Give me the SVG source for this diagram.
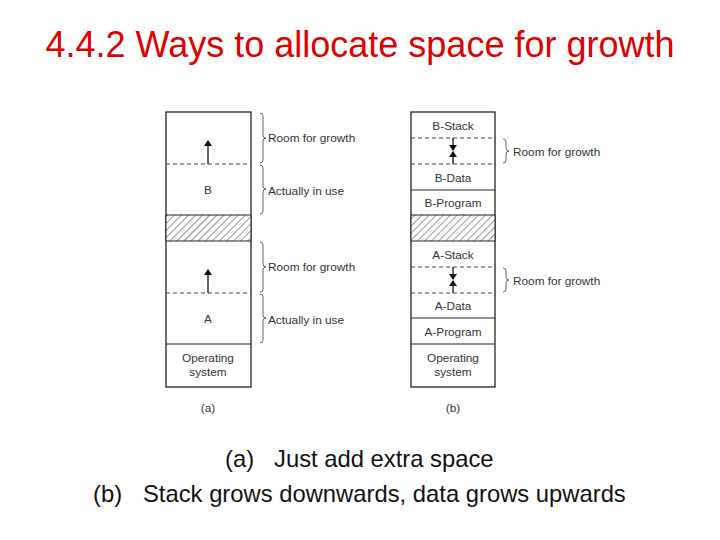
<svg xmlns="http://www.w3.org/2000/svg" width="720" height="540" viewBox="0 0 720 540">
<defs>
<pattern id="hatch" width="5" height="5" patternUnits="userSpaceOnUse" patternTransform="rotate(45)">
<rect width="5" height="5" fill="#fff"/>
<line x1="0" y1="0" x2="0" y2="5" stroke="#333" stroke-width="1"/>
</pattern>
<marker id="ah" viewBox="0 0 6 8" refX="5" refY="4" markerWidth="6" markerHeight="8" markerUnits="userSpaceOnUse" orient="auto">
<path d="M0,0 L6,4 L0,8 Z" fill="#111"/>
</marker>
</defs>
<style>
.title{font-family:"Liberation Sans",Arial,sans-serif;font-size:36px;fill:#e00000}
.cap{font-family:"Liberation Sans",Arial,sans-serif;font-size:23.8px;fill:#111}
.t{font-family:"Liberation Sans",Arial,sans-serif;font-size:11.8px;fill:#333}
.box{fill:#fff;stroke:#222;stroke-width:1.3}
.ln{stroke:#222;stroke-width:1;fill:none}
.dash{stroke:#444;stroke-width:1;stroke-dasharray:4,3;fill:none}
.br{stroke:#555;stroke-width:0.9;fill:none}
.arr{stroke:#111;stroke-width:1.3;fill:none;marker-end:url(#ah)}
</style>
<rect width="720" height="540" fill="#fff"/>
<text class="title" x="360" y="57" text-anchor="middle">4.4.2 Ways to allocate space for growth</text>

<g id="diagram-a">
<rect class="box" x="166" y="112" width="85" height="275"/>
<rect x="166" y="215" width="85" height="26" fill="url(#hatch)" stroke="#222" stroke-width="1"/>
<line class="dash" x1="166" y1="164" x2="251" y2="164"/>
<line class="dash" x1="166" y1="293" x2="251" y2="293"/>
<line class="ln" x1="166" y1="344" x2="251" y2="344"/>
<text class="t" x="208" y="194" text-anchor="middle">B</text>
<text class="t" x="208" y="323" text-anchor="middle">A</text>
<text class="t" x="208" y="362" text-anchor="middle">Operating</text>
<text class="t" x="208" y="376" text-anchor="middle">system</text>
<text class="t" x="208" y="412" text-anchor="middle">(a)</text>
</g>

<g id="diagram-b">
<rect class="box" x="411" y="112" width="84" height="275"/>
<rect x="411" y="215" width="84" height="26" fill="url(#hatch)" stroke="#222" stroke-width="1"/>
<line class="dash" x1="411" y1="138" x2="495" y2="138"/>
<line class="dash" x1="411" y1="164" x2="495" y2="164"/>
<line class="ln" x1="411" y1="190" x2="495" y2="190"/>
<line class="dash" x1="411" y1="267" x2="495" y2="267"/>
<line class="dash" x1="411" y1="293" x2="495" y2="293"/>
<line class="ln" x1="411" y1="318" x2="495" y2="318" stroke="#777" stroke-width="1.6"/>
<line class="ln" x1="411" y1="344" x2="495" y2="344"/>
<text class="t" x="453" y="130" text-anchor="middle">B-Stack</text>
<text class="t" x="453" y="182" text-anchor="middle">B-Data</text>
<text class="t" x="453" y="207" text-anchor="middle">B-Program</text>
<text class="t" x="453" y="259" text-anchor="middle">A-Stack</text>
<text class="t" x="453" y="310" text-anchor="middle">A-Data</text>
<text class="t" x="453" y="336" text-anchor="middle">A-Program</text>
<text class="t" x="453" y="362" text-anchor="middle">Operating</text>
<text class="t" x="453" y="376" text-anchor="middle">system</text>
<text class="t" x="453" y="412" text-anchor="middle">(b)</text>
</g>

<g id="labels">
<text class="t" x="268" y="142">Room for growth</text>
<text class="t" x="268" y="195">Actually in use</text>
<text class="t" x="268" y="271">Room for growth</text>
<text class="t" x="268" y="324">Actually in use</text>
<text class="t" x="513" y="156">Room for growth</text>
<text class="t" x="513" y="285">Room for growth</text>
</g>

<g id="connectors">
<line class="arr" x1="208" y1="164" x2="208" y2="141"/>
<line class="arr" x1="208" y1="293" x2="208" y2="270"/>
<line class="arr" x1="453" y1="138" x2="453" y2="150"/>
<line class="arr" x1="453" y1="164" x2="453" y2="152"/>
<line class="arr" x1="453" y1="267" x2="453" y2="279"/>
<line class="arr" x1="453" y1="293" x2="453" y2="281"/>
<path class="br" d="M260,113 q3,0 3,3 L263,135 q0,3 3,3 q-3,0 -3,3 L263,160 q0,3 -3,3"/>
<path class="br" d="M260,165 q3,0 3,3 L263,186 q0,3 3,3 q-3,0 -3,3 L263,211 q0,3 -3,3"/>
<path class="br" d="M260,242 q3,0 3,3 L263,264 q0,3 3,3 q-3,0 -3,3 L263,289 q0,3 -3,3"/>
<path class="br" d="M260,294 q3,0 3,3 L263,315 q0,3 3,3 q-3,0 -3,3 L263,340 q0,3 -3,3"/>
<path class="br" d="M503,139 q3,0 3,3 L506,148 q0,3 3,3 q-3,0 -3,3 L506,160 q0,3 -3,3"/>
<path class="br" d="M503,268 q3,0 3,3 L506,277 q0,3 3,3 q-3,0 -3,3 L506,289 q0,3 -3,3"/>
</g>

<g id="captions">
<text class="cap" y="467"><tspan x="225">(a)</tspan><tspan x="274">Just add extra space</tspan></text>
<text class="cap" y="502"><tspan x="93">(b)</tspan><tspan x="143">Stack grows downwards, data grows upwards</tspan></text>
</g>
</svg>
